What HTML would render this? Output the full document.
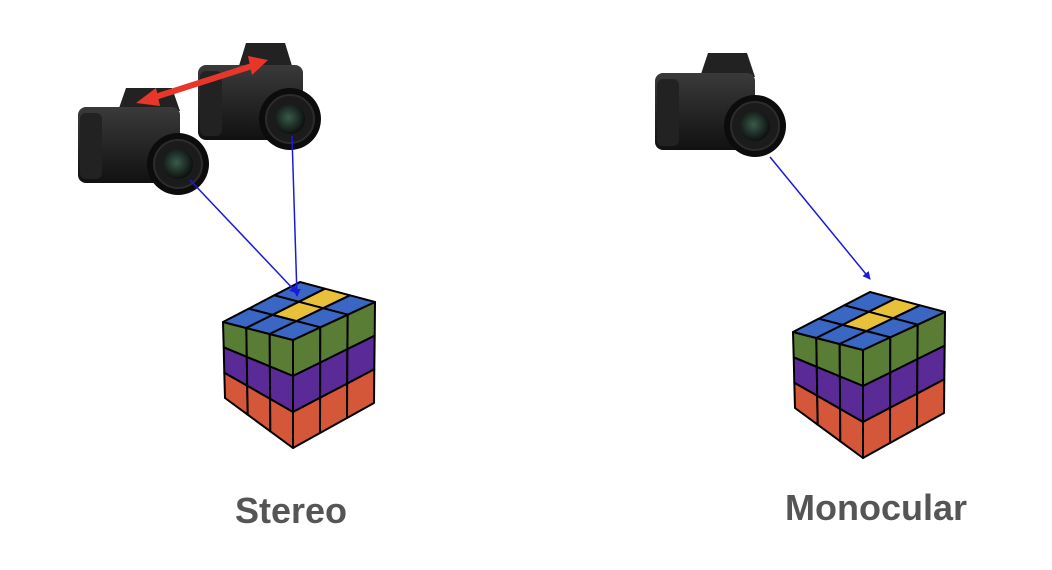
<!DOCTYPE html>
<html><head><meta charset="utf-8"><style>
html,body{margin:0;padding:0;background:#fff;width:1052px;height:570px;overflow:hidden}
svg{display:block}
text{font-family:"Liberation Sans",sans-serif;font-weight:bold;fill:#555}
</style></head><body>
<svg id="s" width="1052" height="570" viewBox="0 0 1052 570" xmlns="http://www.w3.org/2000/svg">
<defs>
<radialGradient id="lg" cx="0.45" cy="0.45" r="0.6"><stop offset="0" stop-color="#3a5a4a"/><stop offset="0.6" stop-color="#1c2a24"/><stop offset="1" stop-color="#0a0a0a"/></radialGradient>
<linearGradient id="bg" x1="0" y1="0" x2="0" y2="1"><stop offset="0" stop-color="#3a3a3a"/><stop offset="1" stop-color="#111"/></linearGradient>
<marker id="ab" markerWidth="8" markerHeight="8" refX="7" refY="4" orient="auto" markerUnits="userSpaceOnUse"><path d="M0,0 L8,4 L0,8 z" fill="#1a1adc"/></marker>
</defs>
<g id="cams"></g>
<g id="cubes"></g>
<line x1="152" y1="98" x2="252" y2="66" stroke="#e8372a" stroke-width="6"/>
<polygon points="136,103 156,88 160,106" fill="#e8372a"/>
<polygon points="268,60 248,56 252,75" fill="#e8372a"/>
<line x1="190" y1="180" x2="297" y2="293" stroke="#1a1adc" stroke-width="1.5" marker-end="url(#ab)"/>
<line x1="292" y1="136" x2="297" y2="296" stroke="#1a1adc" stroke-width="1.5" marker-end="url(#ab)"/>
<line x1="770" y1="157" x2="870" y2="279" stroke="#1a1adc" stroke-width="1.5" marker-end="url(#ab)"/>
<text x="291" y="523" font-size="36" text-anchor="middle">Stereo</text>
<text x="876" y="520" font-size="36" text-anchor="middle">Monocular</text>
</svg>
<script>
var NS="http://www.w3.org/2000/svg";
function el(p,t,a){var e=document.createElementNS(NS,t);for(var k in a)e.setAttribute(k,a[k]);p.appendChild(e);return e;}
var cams=document.getElementById('cams');
function cam(bx,by,bw,bh,hx,hy,hw,lx,ly){
 el(cams,'path',{d:'M'+hx+','+(by+4)+' L'+(hx+8)+','+hy+' L'+(hx+hw-8)+','+hy+' L'+(hx+hw)+','+(by+4)+' z',fill:'#222'});
 el(cams,'rect',{x:bx,y:by,width:bw,height:bh,rx:8,fill:'url(#bg)'});
 el(cams,'rect',{x:bx+2,y:by+6,width:22,height:bh-10,rx:6,fill:'#222'});
 el(cams,'circle',{cx:lx,cy:ly,r:31,fill:'#0c0c0c'});
 el(cams,'circle',{cx:lx,cy:ly,r:24,fill:'#1b1b1b',stroke:'#2c2c2c','stroke-width':2});
 el(cams,'circle',{cx:lx,cy:ly,r:15,fill:'url(#lg)'});
}
cam(78,107,102,76,118,88,62,178,164);
cam(198,65,105,75,238,43,55,290,119);
cam(655,73,100,77,700,53,55,755,126);
var cubes=document.getElementById('cubes');
function lerp(a,b,t){return [a[0]+(b[0]-a[0])*t,a[1]+(b[1]-a[1])*t];}
function bil(q,u,v){var a=lerp(q[0],q[1],u),b=lerp(q[3],q[2],u);return lerp(a,b,v);}
function grid(q,cols,rows,colorFn){
 for(var r=0;r<rows;r++)for(var c=0;c<cols;c++){
  var p=[bil(q,c/cols,r/rows),bil(q,(c+1)/cols,r/rows),bil(q,(c+1)/cols,(r+1)/rows),bil(q,c/cols,(r+1)/rows)];
  el(cubes,'polygon',{points:p.map(function(x){return x[0].toFixed(1)+','+x[1].toFixed(1)}).join(' '),fill:colorFn(r,c),stroke:'#000','stroke-width':2,'stroke-linejoin':'round'});
 }
}
function cube(dx,dy){
 function P(x,y){return [x+dx,y+dy];}
 var rows=['#5a7d35','#5a2a96','#d4573a'];
 grid([P(223,322),P(293,340),P(293,448),P(225,398)],3,3,function(r){return rows[r];});
 grid([P(293,340),P(375,302),P(374,403),P(293,448)],3,3,function(r){return rows[r];});
 grid([P(300,282),P(375,302),P(293,340),P(223,322)],3,3,function(r,c){return (r==1&&c==1)||(r==0&&c==1)?'#e8c03a':'#3a66c4';});
}
cube(0,0);
cube(570,10);
</script>
</body></html>
